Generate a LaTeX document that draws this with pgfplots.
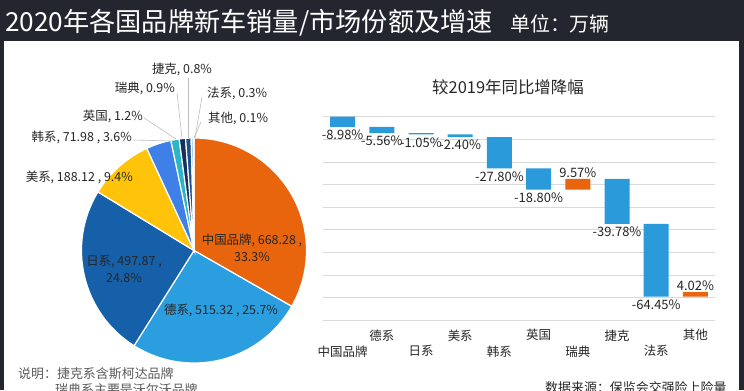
\documentclass[border=0pt]{standalone}
\usepackage{pgfplots}
\pgfplotsset{compat=1.18}
\usepackage{fontspec}
\setmainfont{Noto Sans CJK SC}
\definecolor{bgdark}{HTML}{23262F}
\definecolor{pOrange}{HTML}{E8650E}
\definecolor{pLBlue}{HTML}{2A9EDE}
\definecolor{pDBlue}{HTML}{1660AA}
\definecolor{pYellow}{HTML}{FFC30A}
\definecolor{pKBlue}{HTML}{3F7FE8}
\definecolor{pCyan}{HTML}{2BB5C5}
\definecolor{pNavy}{HTML}{15305C}
\definecolor{pCzech}{HTML}{1E5188}
\definecolor{pFr}{HTML}{5FA8D8}
\definecolor{pOther}{HTML}{9CC3E6}
\definecolor{wfBlue}{HTML}{2A9ADA}
\definecolor{wfOrange}{HTML}{E8650E}
\definecolor{txt}{HTML}{262626}
\definecolor{gridc}{HTML}{D9D9D9}
\definecolor{leader}{HTML}{BFBFBF}

\pgfplotstableread{
x base down up
0 0 -8.98 0
1 -8.98 -5.56 0
2 -14.54 -1.05 0
3 -15.59 -2.40 0
4 -17.99 -27.80 0
5 -45.79 -18.80 0
6 -55.02 0 -9.57
7 -55.02 -39.78 0
8 -94.80 -64.45 0
9 -155.23 0 -4.02
}\wfdata

\pgfplotstableread{
x y lab
0 -8.98 -8.98
1 -14.54 -5.56
2 -15.59 -1.05
3 -17.99 -2.40
4 -45.79 -27.80
5 -64.59 -18.80
7 -94.80 -39.78
8 -159.25 -64.45
}\wfneg

\pgfplotstableread{
x y lab
6 -55.02 9.57
9 -155.23 4.02
}\wfpos

\newcommand{\lbl}{\fontsize{12.5}{15}\selectfont}

\begin{document}
\begin{tikzpicture}
\begin{scope}[x=1bp,y=-1bp]
\path[use as bounding box] (0,0) rectangle (744,390);
\fill[bgdark] (0,0) rectangle (744,390);
\fill[white] (4,40.5) rectangle (739,390);
\coordinate (pieC) at (194,250.5);
\coordinate (wfNW) at (323,116.7);
\node[anchor=base west, text=white, inner sep=0, font=\fontsize{26.3}{26}\selectfont] at (5,31) {2020年各国品牌新车销量/市场份额及增速};
\node[anchor=base west, text=white, inner sep=0, font=\fontsize{20}{20}\selectfont] at (510,31) {单位：万辆};
% waterfall title
\node[text=txt, inner sep=0, font=\fontsize{16.5}{17}\selectfont] at (508,87) {较2019年同比增降幅};
% notes
\node[anchor=base west, text=txt!75, inner sep=0, font=\fontsize{13}{16}\selectfont] at (18,378) {说明：捷克系含斯柯达品牌};
\node[anchor=base west, text=txt!75, inner sep=0, font=\fontsize{13}{16}\selectfont] at (55,394) {瑞典系主要是沃尔沃品牌};
\node[anchor=base west, text=txt, inner sep=0, font=\fontsize{13}{16}\selectfont] at (545,392) {数据来源：保监会交强险上险量};
\end{scope}

% pie
\gdef\pieang{90}
\begin{axis}[at={(pieC)}, anchor=center, hide axis, scale only axis,
  width=225bp, height=225bp, xmin=-1, xmax=1, ymin=-1, ymax=1, clip=false]
\addplot[draw=none, mark=none] coordinates {(0,0)};
\pgfplotsextra{%
  \foreach \p/\c in {33.3/pOrange,25.7/pLBlue,24.8/pDBlue,9.4/pYellow,3.6/pKBlue,1.2/pCyan,0.9/pNavy,0.8/pCzech,0.3/pFr,0.1/pOther}{%
    \pgfmathsetmacro\angb{\pieang-\p*360/100.1}%
    \fill[\c, draw=white, line width=1.2bp] (axis cs:0,0) -- ([shift={(\pieang:112.5bp)}]axis cs:0,0) arc[start angle=\pieang, end angle=\angb, radius=112.5bp] -- cycle;%
    \xdef\pieang{\angb}%
  }%
}
\end{axis}

% pie labels
\begin{scope}[x=1bp,y=-1bp]
\draw[leader, line width=0.6bp] (133,140) -- (173,141);
\draw[leader, line width=0.6bp] (144,118) -- (176,139);
\draw[leader, line width=0.6bp] (177,93) -- (182,138);
\draw[leader, line width=0.6bp] (188,78) -- (188,138);
\draw[leader, line width=0.6bp] (202,97) -- (195,138);
\draw[leader, line width=0.6bp] (201,122) -- (194,138);
\node[anchor=east, text=txt, inner sep=0, font=\lbl] at (133,177) {美系, 188.12 , 9.4\%};
\node[anchor=east, text=txt, inner sep=0, font=\lbl] at (132,137) {韩系, 71.98 , 3.6\%};
\node[anchor=east, text=txt, inner sep=0, font=\lbl] at (143,116) {英国, 1.2\%};
\node[anchor=east, text=txt, inner sep=0, font=\lbl] at (175,88) {瑞典, 0.9\%};
\node[text=txt, inner sep=0, font=\lbl] at (182,69) {捷克, 0.8\%};
\node[anchor=west, text=txt, inner sep=0, font=\lbl] at (207,93) {法系, 0.3\%};
\node[anchor=west, text=txt, inner sep=0, font=\lbl] at (208,118) {其他, 0.1\%};
\node[text=txt, inner sep=0, align=center, font=\fontsize{12.5}{17}\selectfont] at (252,248) {中国品牌, 668.28 ,\\33.3\%};
\node[text=txt, inner sep=0, font=\lbl] at (221,310) {德系, 515.32 , 25.7\%};
\node[text=txt, inner sep=0, align=center, font=\fontsize{12.5}{17}\selectfont] at (124,268.5) {日系, 497.87 ,\\24.8\%};
\end{scope}

% waterfall bars
\begin{axis}[at={(wfNW)}, anchor=north west, scale only axis,
  width=392bp, height=203.3bp, ymin=-180, ymax=0, xmin=-0.5, xmax=9.5,
  ybar stacked, bar width=25bp,
  ytick={-180,-160,...,0}, yticklabels={},
  ymajorgrids, major grid style={draw=gridc, line width=0.6bp},
  axis line style={draw=none}, major tick length=0,
  xtick={1,3,5,7,9},
  xticklabels={德系,美系,英国,捷克,其他},
  xticklabel style={anchor=north, text=txt, font=\fontsize{12.5}{16}\selectfont, yshift=-6bp},
  extra x ticks={0,2,4,6,8},
  extra x tick labels={中国品牌,日系,韩系,瑞典,法系},
  extra x tick style={grid=none, xticklabel style={yshift=-16bp}},
  clip=false]
\addplot[draw=none, fill=none] table[x=x, y=base] {\wfdata};
\addplot[draw=none, fill=wfBlue] table[x=x, y=down] {\wfdata};
\addplot[draw=none, fill=wfOrange] table[x=x, y=up] {\wfdata};
\end{axis}

% waterfall labels
\begin{axis}[at={(wfNW)}, anchor=north west, scale only axis,
  width=392bp, height=203.3bp, ymin=-180, ymax=0, xmin=-0.5, xmax=9.5,
  hide axis, clip=false]
\addplot[draw=none, mark=none, point meta=explicit symbolic,
  nodes near coords={\pgfplotspointmeta\%},
  every node near coord/.append style={anchor=north, text=txt, font=\fontsize{13}{15}\selectfont, inner sep=1bp, yshift=-2bp}]
  table[x=x, y=y, meta=lab] {\wfneg};
\addplot[draw=none, mark=none, point meta=explicit symbolic,
  nodes near coords={\pgfplotspointmeta\%},
  every node near coord/.append style={anchor=south, text=txt, font=\fontsize{13}{15}\selectfont, inner sep=1bp, yshift=0bp}]
  table[x=x, y=y, meta=lab] {\wfpos};
\end{axis}
\end{tikzpicture}
\end{document}
